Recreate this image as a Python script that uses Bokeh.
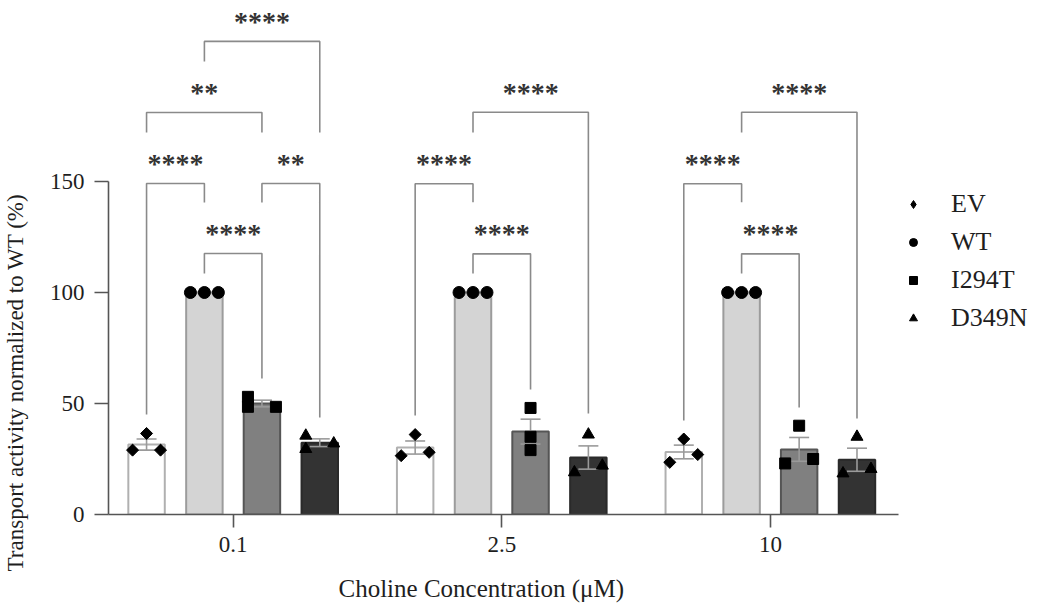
import numpy as np
from bokeh.plotting import figure
from bokeh.models import FixedTicker, Legend, LegendItem, Range1d, Title
from bokeh.core.properties import value
from bokeh.embed import file_html
from bokeh.resources import INLINE

# ---------------- data ----------------
CONCENTRATIONS = ["0.1", "2.5", "10"]
SERIES = ["EV", "WT", "I294T", "D349N"]
EV_VALUES = [[36.5, 29.0, 29.0], [36.0, 26.5, 28.0], [34.0, 23.5, 27.0]]
WT_VALUES = [[100.0, 100.0, 100.0], [100.0, 100.0, 100.0], [100.0, 100.0, 100.0]]
I294T_VALUES = [[53.0, 48.5, 48.5], [48.0, 35.0, 29.0], [40.0, 23.0, 25.0]]
D349N_VALUES = [[35.5, 29.5, 32.0], [36.0, 19.0, 22.0], [35.0, 18.5, 20.5]]
Y_TICKS = [0, 50, 100, 150]
X_TITLE = "Choline Concentration (\u03bcM)"
Y_TITLE = "Transport activity normalized to WT (%)"

# significance comparisons: (concentration index, series a, series b, stars)
SIG_COMPARISONS = [
    (0, 0, 1, "****"), (0, 2, 3, "**"), (0, 1, 2, "****"), (0, 0, 2, "**"), (0, 1, 3, "****"),
    (1, 0, 1, "****"), (1, 1, 2, "****"), (1, 1, 3, "****"),
    (2, 0, 1, "****"), (2, 1, 2, "****"), (2, 1, 3, "****"),
]
# bracket heights in y units: bracket level, end of leg a, end of leg b
SIG_LEVELS = [
    (149.1, 45.0, 140.5), (149.1, 140.5, 43.7), (117.6, 108.6, 61.3), (181.1, 172.1, 172.1), (213.1, 204.0, 172.1),
    (149.0, 44.6, 140.7), (117.4, 108.6, 56.3), (181.2, 172.1, 45.5),
    (149.0, 42.3, 140.7), (117.4, 108.6, 48.2), (181.2, 172.1, 43.2),
]

ALL_VALUES = [EV_VALUES, WT_VALUES, I294T_VALUES, D349N_VALUES]

# ---------------- style / layout ----------------
BAR_FILL = ["#ffffff", "#d4d4d4", "#808080", "#333333"]
BAR_LINE = ["#b0b0b0", "#9c9c9c", "#555555", "#2a2a2a"]
ERR_COLOR = "#9a9a9a"
MARKERS = ["square", "circle", "square", "triangle"]
LEGEND_MARKERS = ["diamond", "circle", "square", "triangle"]
MARKER_ANGLE = [np.pi / 4, 0.0, 0.0, 0.0]
MARKER_SIZE = [8.5, 12, 11, 12]
# point placement inside a bar: -1 left, 0 centre, +1 right
JITTER = [
    [[0, -1, 1], [0, -1, 1], [0, -1, 1]],
    [[-1, 0, 1], [-1, 0, 1], [-1, 0, 1]],
    [[-1, -1, 1], [0, 0, 0], [0, -1, 1]],
    [[-1, -1, 1], [0, -1, 1], [0, -1, 1]],
]
FONT = "Liberation Serif"
TEXT_COLOR = "#1e1e1e"

FIG_W, FIG_H = 1037, 603
B_LEFT, B_RIGHT, B_TOP, B_BOTTOM = 107, 10, 0, 89
PX_PER_X = 268.9
PX_PER_Y = 2.22
FIRST_GROUP_PX = 124.8
BAR_OFFSETS_PX = [-86.7, -28.8, 28.8, 86.7]
BAR_WIDTH_PX = 36.5
JITTER_PX = 14.0
CAP_PX = 20.0

frame_w = FIG_W - B_LEFT - B_RIGHT
frame_h = FIG_H - B_TOP - B_BOTTOM
x0 = -FIRST_GROUP_PX / PX_PER_X
x1 = x0 + frame_w / PX_PER_X
y1 = frame_h / PX_PER_Y

p = figure(width=FIG_W, height=FIG_H, x_range=Range1d(x0, x1), y_range=Range1d(0, y1),
           output_backend="svg", toolbar_location=None,
           min_border_left=B_LEFT, min_border_right=B_RIGHT,
           min_border_top=B_TOP, min_border_bottom=B_BOTTOM)
p.outline_line_color = None
p.xgrid.visible = False
p.ygrid.visible = False

bar_x = {}
for s, vals in enumerate(ALL_VALUES):
    xs, tops, lo, hi = [], [], [], []
    for g, pts in enumerate(vals):
        arr = np.array(pts, dtype=float)
        m = arr.mean()
        sem = arr.std(ddof=1) / np.sqrt(len(arr))
        xc = g + BAR_OFFSETS_PX[s] / PX_PER_X
        bar_x[(g, s)] = xc
        xs.append(xc)
        tops.append(m)
        lo.append(m - sem)
        hi.append(m + sem)
    p.vbar(x=xs, top=tops, bottom=0, width=BAR_WIDTH_PX / PX_PER_X,
           fill_color=BAR_FILL[s], line_color=BAR_LINE[s], line_width=2)
    cap = CAP_PX / PX_PER_X / 2
    p.segment(x0=xs, y0=lo, x1=xs, y1=hi, line_color=ERR_COLOR, line_width=1.6)
    p.segment(x0=[x - cap for x in xs], y0=hi, x1=[x + cap for x in xs], y1=hi,
              line_color=ERR_COLOR, line_width=1.6)
    p.segment(x0=[x - cap for x in xs], y0=lo, x1=[x + cap for x in xs], y1=lo,
              line_color=ERR_COLOR, line_width=1.6)

for s, vals in enumerate(ALL_VALUES):
    px_, py_ = [], []
    for g, pts in enumerate(vals):
        for k, v in enumerate(pts):
            px_.append(bar_x[(g, s)] + JITTER[s][g][k] * JITTER_PX / PX_PER_X)
            py_.append(v)
    p.scatter(x=px_, y=py_, marker=MARKERS[s], size=MARKER_SIZE[s], angle=MARKER_ANGLE[s],
              fill_color="black", line_color="black")

# legend-only renderers (nothing drawn in the plot area)
legend_renderers = [p.scatter(x=[np.nan], y=[np.nan], marker=m, fill_color="black", line_color="black")
                    for m in LEGEND_MARKERS]

# significance brackets
bx, by, tx, ty, tt = [], [], [], [], []
for (g, a, b, stars), (lvl, la, lb) in zip(SIG_COMPARISONS, SIG_LEVELS):
    xa, xb = bar_x[(g, a)], bar_x[(g, b)]
    bx.append([xa, xa, xb, xb])
    by.append([la, lvl, lvl, lb])
    tx.append((xa + xb) / 2)
    ty.append(lvl)
    tt.append(stars)
p.multi_line(xs=bx, ys=by, line_color="#8a8a8a", line_width=1.6)
p.text(x=tx, y=ty, text=tt, text_font=value(FONT), text_font_size="28px", text_font_style="bold",
       text_align="center", text_baseline="alphabetic", y_offset=-20, text_color="#333333")

# axes
p.xaxis.ticker = FixedTicker(ticks=[0, 1, 2])
p.xaxis.major_label_overrides = {i: c for i, c in enumerate(CONCENTRATIONS)}
p.xaxis.bounds = (x0, 2 - x0 + 0.013)
p.yaxis.ticker = FixedTicker(ticks=Y_TICKS)
p.yaxis.bounds = (0, 150)
for ax in (p.xaxis[0], p.yaxis[0]):
    ax.axis_line_color = "#555555"
    ax.axis_line_width = 1.6
    ax.major_tick_line_color = "#555555"
    ax.major_tick_line_width = 1.6
    ax.minor_tick_line_color = None
    ax.major_tick_in = 0
    ax.major_label_text_font = FONT
    ax.major_label_text_font_size = "23px"
    ax.major_label_text_color = TEXT_COLOR
p.xaxis.major_tick_out = 13
p.yaxis.major_tick_out = 14
p.xaxis.major_label_standoff = 9
p.yaxis.major_label_standoff = 10

# spacers between the axes and their titles
p.add_layout(Title(text=" ", text_font_size="12px", standoff=3), "left")
p.add_layout(Title(text=" ", text_font_size="12px", standoff=2), "below")

y_title = Title(text=Y_TITLE, align="right", offset=193, text_font=FONT, text_font_size="23px",
                text_font_style="normal", text_color=TEXT_COLOR, standoff=0)
p.add_layout(y_title, "left")
x_title = Title(text=X_TITLE, align="left", offset=230, text_font=FONT, text_font_size="25px",
                text_font_style="normal", text_color=TEXT_COLOR, standoff=0, vertical_align="bottom")
p.add_layout(x_title, "below")

legend = Legend(items=[LegendItem(label=s, renderers=[r]) for s, r in zip(SERIES, legend_renderers)],
                location=(795, 181), glyph_width=20, glyph_height=20, label_standoff=28,
                spacing=8, padding=0, margin=0, border_line_color=None,
                background_fill_alpha=0, label_text_font=FONT, label_text_font_size="26px",
                label_text_color=TEXT_COLOR)
p.add_layout(legend)

open("out.html", "w").write(file_html(p, INLINE))
